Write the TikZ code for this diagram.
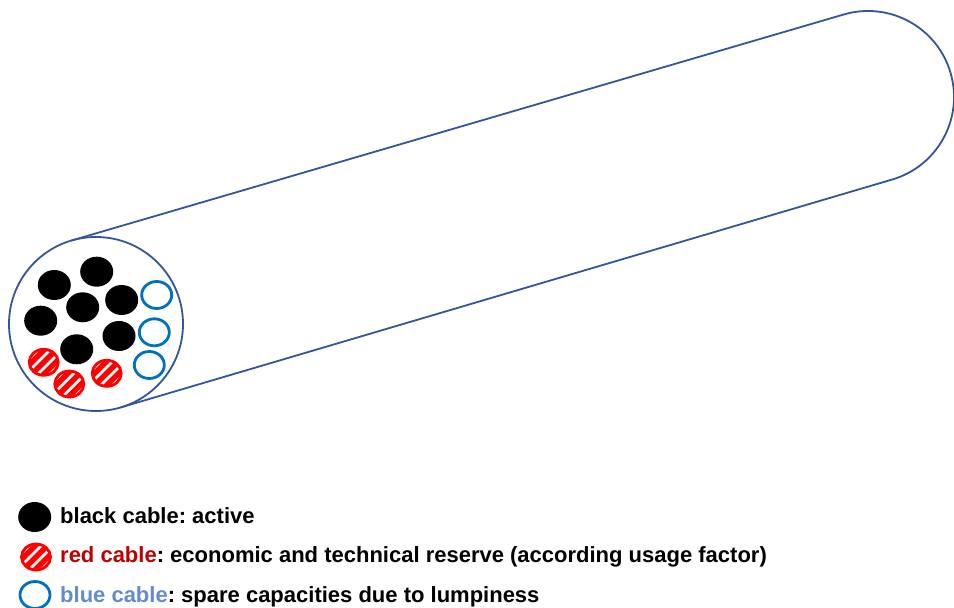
\documentclass[tikz,border=0pt]{standalone}
\usepackage{fontspec}
\setmainfont{Liberation Sans}
\usetikzlibrary{shapes.geometric,calc}
\definecolor{sheath}{RGB}{52,86,150}
\definecolor{spareblue}{RGB}{0,112,192}
\definecolor{reservered}{RGB}{255,0,0}
\definecolor{labelred}{RGB}{192,0,0}
\definecolor{labelblue}{RGB}{100,140,205}
\tikzset{
  wire/.style={ellipse, inner sep=0pt, minimum width=33pt, minimum height=30pt},
  active/.style={wire, fill=black},
  spare/.style={wire, draw=spareblue, line width=2.8pt, minimum width=30pt, minimum height=27pt},
  reserve/.style={wire, draw=reservered, line width=2.8pt, minimum width=29pt, minimum height=26pt,
    path picture={
      \foreach \k in {-2,...,2}
        \draw[reservered, line width=5.5pt]
          ($(path picture bounding box.center)+(\k*12,0)+(-22,-22)$) -- ++(44,44);
    }},
  outline/.style={draw=sheath, line width=1.8pt},
  legendtext/.style={anchor=base west, font=\bfseries\fontsize{22}{26}\selectfont, inner sep=0pt}
}
\begin{document}
\frenchspacing
\begin{tikzpicture}[x=1pt,y=1pt]
\useasboundingbox (0,0) rectangle (954,608);
\clip (0,0) rectangle (954,608);

% cable sheath: front face, far end and the two silhouette lines
\coordinate (front) at (96,284);
\coordinate (far) at (868,511);
\coordinate (ftop) at ($(front)+(106.38:87)$);
\coordinate (fbot) at ($(front)+(-73.62:87)$);
\coordinate (rtop) at ($(far)+(106.38:86)$);
\coordinate (rbot) at ($(far)+(-73.62:86)$);
\draw[outline] (ftop) -- (rtop) arc[start angle=106.38, end angle=-73.62, radius=86] -- (fbot);
\draw[outline] (front) circle[radius=87];

% wires inside the sheath
\node[active] (a1) at (54.3,323) {};
\node[active] (a2) at (96.7,336.3) {};
\node[active] (a3) at (121.7,308) {};
\node[active] (a4) at (82.7,300.7) {};
\node[active] (a5) at (40.7,287.3) {};
\node[active] (a6) at (119,272) {};
\node[active] (a7) at (76.7,258.7) {};
\node[spare] (s1) at (156.7,313) {};
\node[spare] (s2) at (154.3,275.7) {};
\node[spare] (s3) at (149.3,243) {};
\node[reserve] (r1) at (43.7,245.7) {};
\node[reserve] (r2) at (69.3,224) {};
\node[reserve] (r3) at (106.7,234.7) {};

% legend
\node[active] (la) at (34.7,91) {};
\node[reserve] (lr) at (36,51) {};
\node[spare] (ls) at (35,13) {};
\node[legendtext] (ta) at (60,84.7) {black cable: active};
\node[legendtext] (tr) at (60,45) {\textcolor{labelred}{red cable}: economic and technical reserve (according usage factor)};
\node[legendtext] (ts) at (60,5) {\textcolor{labelblue}{blue cable}: spare capacities due to lumpiness};
\end{tikzpicture}
\end{document}
